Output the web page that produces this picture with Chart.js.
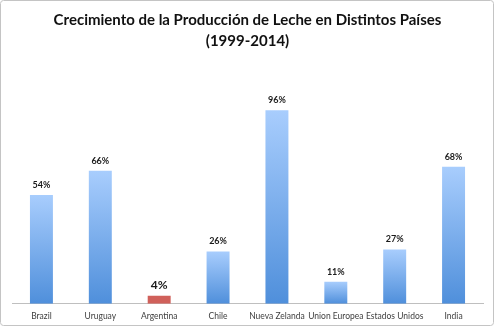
<!DOCTYPE html>
<html>
<head>
<meta charset="utf-8">
<script src="https://cdn.jsdelivr.net/npm/chart.js@4"></script>
<style>
html,body{margin:0;padding:0;background:#fff;}
#wrap{width:495px;height:328px;position:relative;}
</style>
</head>
<body>
<div id="wrap"><canvas id="c" width="495" height="328"></canvas></div>
<script>
const categories = ["Brazil", "Uruguay", "Argentina", "Chile", "Nueva Zelanda", "Union Europea", "Estados Unidos", "India"];
const growth = [54, 66, 4, 26, 96, 11, 27, 68];
const valueLabels = ["54%", "66%", "4%", "26%", "96%", "11%", "27%", "68%"];
const highlighted = ["Argentina"];
const titleLines = ["Crecimiento de la Producción de Leche en Distintos Países", "(1999-2014)"];

function barFill(ctx) {
  const chart = ctx.chart;
  const label = categories[ctx.dataIndex];
  if (highlighted.includes(label)) return "#d0605a";
  const area = chart.chartArea;
  if (!area) return "#7fb0ee";
  const y = chart.scales.y;
  const v = ctx.raw;
  const top = y.getPixelForValue(v);
  const bot = y.getPixelForValue(0);
  if (!isFinite(top) || !isFinite(bot) || top === bot) return "#7fb0ee";
  const g = chart.ctx.createLinearGradient(0, top, 0, bot);
  g.addColorStop(0, "#a8cdfd");
  g.addColorStop(1, "#4f8fdb");
  return g;
}

const frame = {
  id: "frame",
  afterDraw(chart) {
    const c = chart.ctx;
    c.save();
    c.strokeStyle = "#c4c4c4";
    c.lineWidth = 1;
    const w = chart.width, h = chart.height, r = 3;
    c.beginPath();
    c.moveTo(0.5 + r, 0.5);
    c.lineTo(w - 1.5 - r, 0.5);
    c.arcTo(w - 1.5, 0.5, w - 1.5, 0.5 + r, r);
    c.lineTo(w - 1.5, h - 2.5 - r);
    c.arcTo(w - 1.5, h - 2.5, w - 1.5 - r, h - 2.5, r);
    c.lineTo(0.5 + r, h - 2.5);
    c.arcTo(0.5, h - 2.5, 0.5, h - 2.5 - r, r);
    c.lineTo(0.5, 0.5 + r);
    c.arcTo(0.5, 0.5, 0.5 + r, 0.5, r);
    c.stroke();
    c.restore();
  }
};

const valueText = {
  id: "valueText",
  afterDatasetsDraw(chart) {
    const c = chart.ctx;
    const meta = chart.getDatasetMeta(0);
    c.save();
    c.fillStyle = "#1a1a1a";
    c.textAlign = "center";
    c.textBaseline = "middle";
    meta.data.forEach((bar, i) => {
      const big = highlighted.includes(categories[i]);
      c.font = (big ? "bold 12px" : "bold 9px") + " Lato, 'Liberation Sans', sans-serif";
      c.fillText(valueLabels[i], bar.x, bar.y - (big ? 11 : 10));
    });
    c.restore();
  }
};

new Chart(document.getElementById("c"), {
  type: "bar",
  data: {
    labels: categories,
    datasets: [{
      data: growth,
      backgroundColor: barFill,
      borderWidth: 0,
      categoryPercentage: 1,
      barPercentage: 0.39
    }]
  },
  options: {
    responsive: false,
    animation: false,
    events: [],
    layout: { padding: { left: 12, right: 12, top: 4, bottom: 0 } },
    plugins: {
      legend: { display: false },
      tooltip: { enabled: false },
      title: {
        display: true,
        text: titleLines,
        color: "#111",
        font: { family: "Lato, 'Liberation Sans', sans-serif", size: 15, weight: "bold", lineHeight: 1.4 },
        padding: { top: 6, bottom: 10 }
      }
    },
    scales: {
      x: {
        grid: { display: false, drawTicks: false },
        border: { display: true, color: "#bfbfbf", width: 1 },
        ticks: { color: "#404040", font: { family: "Lato, 'Liberation Sans', sans-serif", size: 8.5 }, padding: 7, maxRotation: 0, autoSkip: false }
      },
      y: {
        display: false,
        min: 0,
        max: 120
      }
    }
  },
  plugins: [frame, valueText]
});
</script>
</body>
</html>
